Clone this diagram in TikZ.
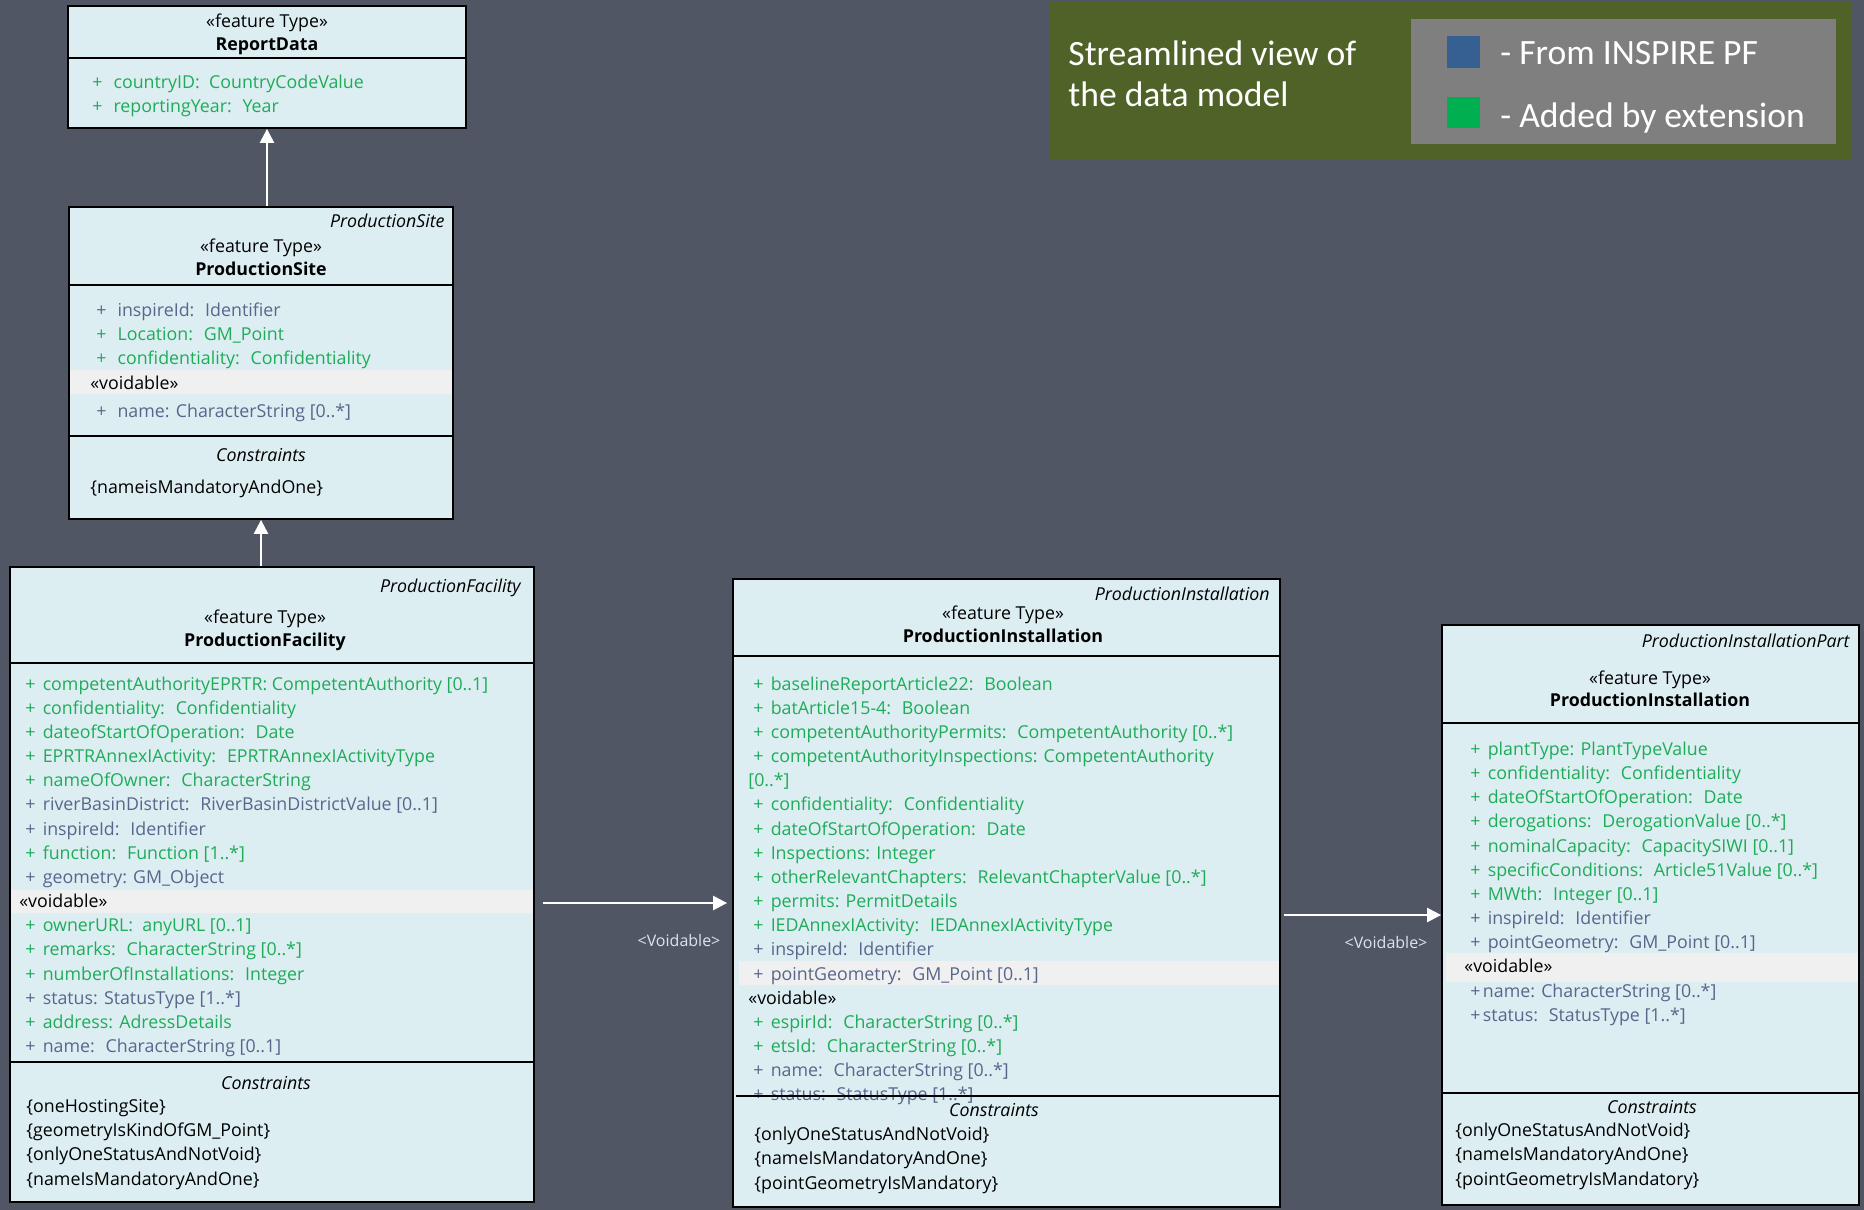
\documentclass[tikz,border=0pt]{standalone}
\usepackage{fontspec}
\setmainfont{Open Sans}
\newfontfamily\legendfont{Carlito}
\usetikzlibrary{fit,arrows.meta}

\definecolor{bgslate}{RGB}{80,86,99}
\definecolor{boxfill}{RGB}{221,238,243}
\definecolor{voidband}{RGB}{240,240,240}
\definecolor{extgreen}{RGB}{30,172,88}
\definecolor{pfblue}{RGB}{88,102,140}
\definecolor{lbltext}{RGB}{220,228,238}
\definecolor{legendolive}{RGB}{79,98,40}
\definecolor{legendgray}{RGB}{127,127,127}
\definecolor{keyblue}{RGB}{54,96,146}
\definecolor{keygreen}{RGB}{0,176,80}

\newcommand{\umlfont}{\fontsize{8.9}{11}\selectfont}
\newcommand{\pl}[1][3.6pt]{+\hspace{#1}}

\begin{document}
\begin{tikzpicture}[x=0.5pt,y=-0.5pt,
  classbox/.style={draw=black,line width=0.9pt,fill=boxfill,inner sep=0pt},
  divider/.style={line width=0.9pt},
  ext/.style={anchor=base west,inner sep=0pt,text=extgreen,font=\umlfont},
  pf/.style={anchor=base west,inner sep=0pt,text=pfblue,font=\umlfont},
  note/.style={anchor=base west,inner sep=0pt,text=black,font=\umlfont},
  headtext/.style={anchor=base,inner sep=0pt,text=black,font=\umlfont},
  gen/.style={draw=white,line width=1.2pt,-{Triangle[length=7pt,width=7pt]}},
  lbl/.style={anchor=base,inner sep=0pt,text=lbltext,font=\fontsize{8}{10}\selectfont},
  keytext/.style={anchor=base west,inner sep=0pt,text=white,font=\legendfont\fontsize{17.8}{21}\selectfont}]

  \fill[bgslate] (0,0) rectangle (1864,1210);
  \useasboundingbox (0,0) rectangle (1864,1210);

  % legend
  \node (lg) [fill=legendolive,inner sep=0pt,fit={(1049,2) (1851,159)}] {};
  \node (lk) [fill=legendgray,inner sep=0pt,fit={(1411,19) (1836,144)}] {};
  \node (kb) [fill=keyblue,inner sep=0pt,fit={(1447,36) (1480,68)}] {};
  \node (kg) [fill=keygreen,inner sep=0pt,fit={(1447,97) (1480,128)}] {};
  \node (lt1) at (1068,65) [keytext] {Streamlined view of};
  \node (lt2) at (1068,106) [keytext] {the data model};
  \node (kt1) at (1500,64) [keytext] {- From INSPIRE PF};
  \node (kt2) at (1500,127) [keytext] {- Added by extension};

  % ReportData
  \node (rd) [classbox,fit={(68,6) (466,128)}] {};
  \draw[divider] (68,58) -- (466,58);
  \node (rd-st) at (267,27) [headtext] {«feature Type»};
  \node (rd-nm) at (267,50) [headtext] {\bfseries ReportData};
  \node (rd-a1) at (92,88) [ext] {\pl[5.5pt]countryID:~ CountryCodeValue};
  \node (rd-a2) at (92,112) [ext] {\pl[5.5pt]reportingYear:~ Year};

  % ProductionSite
  \node (ps) [classbox,fit={(69,207) (453,519)}] {};
  \fill[voidband] (70,370) rectangle (452,394);
  \draw[divider] (69,285) -- (453,285);
  \draw[divider] (69,436) -- (453,436);
  \node (ps-it) at (445,227) [headtext,anchor=base east] {\itshape ProductionSite};
  \node (ps-st) at (261,252) [headtext] {«feature Type»};
  \node (ps-nm) at (261,275) [headtext] {\bfseries ProductionSite};
  \node (ps-a1) at (96,316) [pf] {\pl[5.5pt]inspireId:~ Identifier};
  \node (ps-a2) at (96,340) [ext] {\pl[5.5pt]Location:~ GM\_Point};
  \node (ps-a3) at (96,364) [ext] {\pl[5.5pt]confidentiality:~ Confidentiality};
  \node (ps-vd) at (90,389) [note] {«voidable»};
  \node (ps-a4) at (96,417) [pf] {\pl[5.5pt]name: CharacterString [0..*]};
  \node (ps-cn) at (261,461) [headtext] {\itshape Constraints};
  \node (ps-c1) at (90,493) [note] {\{nameisMandatoryAndOne\}};

  % ProductionFacility
  \node (pf) [classbox,fit={(10,567) (534,1202)}] {};
  \fill[voidband] (11,890) rectangle (533,913);
  \draw[divider] (10,663) -- (534,663);
  \draw[divider] (10,1062) -- (534,1062);
  \node (pf-it) at (521,592) [headtext,anchor=base east] {\itshape ProductionFacility};
  \node (pf-st) at (265,623) [headtext] {«feature Type»};
  \node (pf-nm) at (265,646) [headtext] {\bfseries ProductionFacility};
  \node (pf-a1) at (25,690) [ext] {\pl competentAuthorityEPRTR: CompetentAuthority [0..1]};
  \node (pf-a2) at (25,714) [ext] {\pl confidentiality:~ Confidentiality};
  \node (pf-a3) at (25,738) [ext] {\pl dateofStartOfOperation:~ Date};
  \node (pf-a4) at (25,762) [ext] {\pl EPRTRAnnexIActivity:~ EPRTRAnnexIActivityType};
  \node (pf-a5) at (25,786) [ext] {\pl nameOfOwner:~ CharacterString};
  \node (pf-a6) at (25,810) [pf] {\pl riverBasinDistrict:~ RiverBasinDistrictValue [0..1]};
  \node (pf-a7) at (25,835) [pf] {\pl inspireId:~ Identifier};
  \node (pf-a8) at (25,859) [ext] {\pl function:~ Function [1..*]};
  \node (pf-a9) at (25,883) [pf] {\pl geometry: GM\_Object};
  \node (pf-vd) at (19,907) [note] {«voidable»};
  \node (pf-a10) at (25,931) [ext] {\pl ownerURL:~ anyURL [0..1]};
  \node (pf-a11) at (25,955) [ext] {\pl remarks:~ CharacterString [0..*]};
  \node (pf-a12) at (25,980) [ext] {\pl numberOfInstallations:~ Integer};
  \node (pf-a13) at (25,1004) [pf] {\pl status: StatusType [1..*]};
  \node (pf-a14) at (25,1028) [ext] {\pl address: AdressDetails};
  \node (pf-a15) at (25,1052) [pf] {\pl name:~ CharacterString [0..1]};
  \node (pf-cn) at (266,1089) [headtext] {\itshape Constraints};
  \node (pf-c1) at (26,1112) [note] {\{oneHostingSite\}};
  \node (pf-c2) at (26,1136) [note] {\{geometryIsKindOfGM\_Point\}};
  \node (pf-c3) at (26,1160) [note] {\{onlyOneStatusAndNotVoid\}};
  \node (pf-c4) at (26,1185) [note] {\{nameIsMandatoryAndOne\}};

  % ProductionInstallation
  \node (pi) [classbox,fit={(733,579) (1280,1207)}] {};
  \fill[voidband] (739,961) rectangle (1279,985);
  \draw[divider] (733,656) -- (1280,656);
  \node (pi-it) at (1270,600) [headtext,anchor=base east] {\itshape ProductionInstallation};
  \node (pi-st) at (1003,619) [headtext] {«feature Type»};
  \node (pi-nm) at (1003,642) [headtext] {\bfseries ProductionInstallation};
  \node (pi-a1) at (753,690) [ext] {\pl baselineReportArticle22:~ Boolean};
  \node (pi-a2) at (753,714) [ext] {\pl batArticle15-4:~ Boolean};
  \node (pi-a3) at (753,738) [ext] {\pl competentAuthorityPermits:~ CompetentAuthority [0..*]};
  \node (pi-a4) at (753,762) [ext] {\pl competentAuthorityInspections: CompetentAuthority};
  \node (pi-a4b) at (748,786) [ext] {[0..*]};
  \node (pi-a5) at (753,810) [ext] {\pl confidentiality:~ Confidentiality};
  \node (pi-a6) at (753,835) [ext] {\pl dateOfStartOfOperation:~ Date};
  \node (pi-a7) at (753,859) [ext] {\pl Inspections: Integer};
  \node (pi-a8) at (753,883) [ext] {\pl otherRelevantChapters:~ RelevantChapterValue [0..*]};
  \node (pi-a9) at (753,907) [ext] {\pl permits: PermitDetails};
  \node (pi-a10) at (753,931) [ext] {\pl IEDAnnexIActivity:~ IEDAnnexIActivityType};
  \node (pi-a11) at (753,955) [pf] {\pl inspireId:~ Identifier};
  \node (pi-a12) at (753,980) [pf] {\pl pointGeometry:~ GM\_Point [0..1]};
  \node (pi-vd) at (748,1004) [note] {«voidable»};
  \node (pi-a13) at (753,1028) [ext] {\pl espirId:~ CharacterString [0..*]};
  \node (pi-a14) at (753,1052) [ext] {\pl etsId:~ CharacterString [0..*]};
  \node (pi-a15) at (753,1076) [pf] {\pl name:~ CharacterString [0..*]};
  \node (pi-a16) at (753,1100) [pf] {\pl status:~ StatusType [1..*]};
  \draw[divider] (736,1096) -- (1280,1096);
  \node (pi-cn) at (994,1116) [headtext] {\itshape Constraints};
  \node (pi-c1) at (754,1140) [note] {\{onlyOneStatusAndNotVoid\}};
  \node (pi-c2) at (754,1164) [note] {\{nameIsMandatoryAndOne\}};
  \node (pi-c3) at (754,1189) [note] {\{pointGeometryIsMandatory\}};

  % ProductionInstallationPart
  \node (pip) [classbox,fit={(1442,625) (1859,1205)}] {};
  \fill[voidband] (1446,953) rectangle (1858,982);
  \draw[divider] (1442,723) -- (1859,723);
  \draw[divider] (1442,1093) -- (1859,1093);
  \node (pip-it) at (1850,647) [headtext,anchor=base east] {\itshape ProductionInstallationPart};
  \node (pip-st) at (1650,684) [headtext] {«feature Type»};
  \node (pip-nm) at (1650,706) [headtext] {\bfseries ProductionInstallation};
  \node (pip-a1) at (1470,755) [ext] {\pl plantType: PlantTypeValue};
  \node (pip-a2) at (1470,779) [ext] {\pl confidentiality:~ Confidentiality};
  \node (pip-a3) at (1470,803) [ext] {\pl dateOfStartOfOperation:~ Date};
  \node (pip-a4) at (1470,827) [ext] {\pl derogations:~ DerogationValue [0..*]};
  \node (pip-a5) at (1470,852) [ext] {\pl nominalCapacity:~ CapacitySIWI [0..1]};
  \node (pip-a6) at (1470,876) [ext] {\pl specificConditions:~ Article51Value [0..*]};
  \node (pip-a7) at (1470,900) [ext] {\pl MWth:~ Integer [0..1]};
  \node (pip-a8) at (1470,924) [pf] {\pl inspireId:~ Identifier};
  \node (pip-a9) at (1470,948) [pf] {\pl pointGeometry:~ GM\_Point [0..1]};
  \node (pip-vd) at (1464,972) [note] {«voidable»};
  \node (pip-a10) at (1470,997) [pf] {\pl[1.2pt]name: CharacterString [0..*]};
  \node (pip-a11) at (1470,1021) [pf] {\pl[1.2pt]status:~ StatusType [1..*]};
  \node (pip-cn) at (1652,1113) [headtext] {\itshape Constraints};
  \node (pip-c1) at (1455,1136) [note] {\{onlyOneStatusAndNotVoid\}};
  \node (pip-c2) at (1455,1160) [note] {\{nameIsMandatoryAndOne\}};
  \node (pip-c3) at (1455,1185) [note] {\{pointGeometryIsMandatory\}};

  % connectors
  \coordinate (v1) at (0,903);
  \coordinate (v2) at (0,915);
  \draw[gen] (rd.south |- ps.north) -- (rd.south);
  \draw[gen] (ps.south |- pf.north) -- (ps.south);
  \draw[gen,shorten <=4pt,shorten >=2.5pt] (pf.east |- v1) -- (pi.west |- v1);
  \draw[gen,shorten <=1.5pt] (pi.east |- v2) -- (pip.west |- v2);
  \node (l1) at (679,946) [lbl] {<Voidable>};
  \node (l2) at (1386,948) [lbl] {<Voidable>};
\end{tikzpicture}
\end{document}
